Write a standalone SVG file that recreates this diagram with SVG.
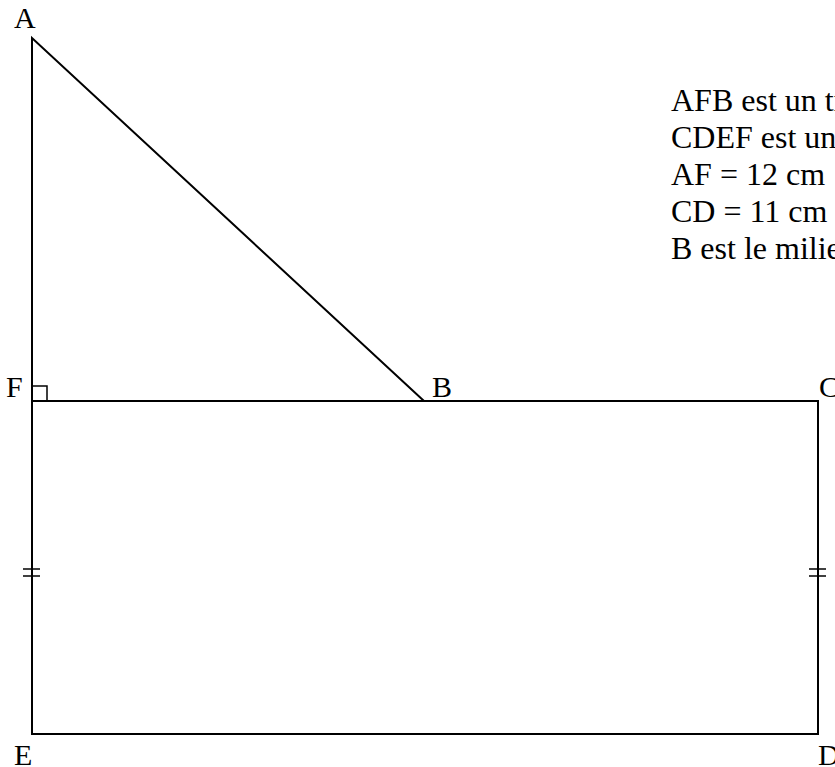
<svg xmlns="http://www.w3.org/2000/svg" width="835" height="767" viewBox="0 0 835 767">
<style>
  .ln { fill: none; stroke: #000; stroke-width: 2; }
  .tk { fill: none; stroke: #000; stroke-width: 1.5; }
  text { font-family: "Liberation Serif", "Times New Roman", serif; font-size: 30px; fill: #000; }
  .info { font-size: 32px; }
</style>
<rect width="835" height="767" fill="#fff"/>
<g id="connectors">
  <polyline class="ln" points="424,401 32,38 32,734 818,734 818,401 32,401"/>
  <polyline class="tk" points="32,386 47,386 47,401"/>
  <line class="tk" x1="23" y1="569" x2="40" y2="569"/>
  <line class="tk" x1="23" y1="576" x2="40" y2="576"/>
  <line class="tk" x1="809" y1="569" x2="826" y2="569"/>
  <line class="tk" x1="809" y1="576" x2="826" y2="576"/>
</g>
<g id="A"><text x="14" y="28">A</text></g>
<g id="F"><text x="6" y="397">F</text></g>
<g id="B"><text x="432" y="397">B</text></g>
<g id="C"><text x="819" y="397">C</text></g>
<g id="E"><text x="14" y="765">E</text></g>
<g id="D"><text x="818" y="765">D</text></g>
<g id="info">
  <text class="info" x="671" y="111">AFB est un triangle rectangle en F</text>
  <text class="info" x="671" y="148">CDEF est un rectangle</text>
  <text class="info" x="671" y="185">AF = 12 cm</text>
  <text class="info" x="671" y="222">CD = 11 cm</text>
  <text class="info" x="671" y="259">B est le milieu de [FC]</text>
</g>
</svg>
